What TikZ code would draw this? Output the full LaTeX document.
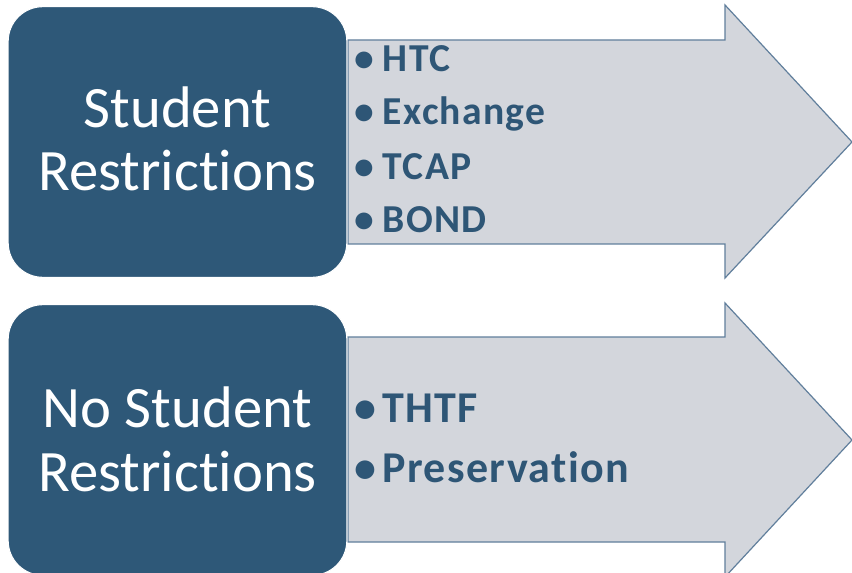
\documentclass[tikz,border=0pt]{standalone}
\usepackage{fontspec}
\setmainfont{Carlito}[Ligatures={NoCommon,NoRare},Contextuals={NoAlternate}]
\definecolor{boxblue}{HTML}{2E5878}
\definecolor{arrowfill}{HTML}{D3D6DC}
\definecolor{arrowline}{HTML}{617F9C}
\definecolor{bultext}{HTML}{2E5676}
\newcommand{\restr}{Restric\kern0pt t\kern0pt ions}
\begin{document}
\begin{tikzpicture}[x=0.75pt,y=-0.75pt,
  arrowshape/.style={fill=arrowfill,draw=arrowline,line width=0.9pt,line join=miter},
  catbox/.style={rectangle,rounded corners=26pt,fill=boxblue,draw=white,line width=0.8pt,
    minimum width=254pt,minimum height=203pt},
  cattext/.style={inner sep=0pt,text=white,align=center,
    font=\fontsize{44}{47.5}\selectfont},
  bul/.style={anchor=base west,inner sep=0pt,text=bultext,font=\bfseries\fontsize{29.7}{30}\selectfont\addfontfeature{LetterSpace=3.3}},
  bulb/.style={anchor=base west,inner sep=0pt,text=bultext,font=\bfseries\fontsize{33}{34}\selectfont\addfontfeature{LetterSpace=3.3}}]
\useasboundingbox (0,0) rectangle (852,573);
\fill[white] (0,0) rectangle (852,573);
% arrows
\draw[arrowshape] (348,40)--(725,40)--(725,5)--(852,142)--(725,278)--(725,244)--(348,244)--cycle;
\draw[arrowshape] (348,337)--(725,337)--(725,303)--(852,440)--(725,577)--(725,542)--(348,542)--cycle;
% boxes
\node[catbox] (box1) at (177.5,142) {};
\node[catbox] (box2) at (177.5,440) {};
\node[cattext] (t1) at ([yshift=2.2pt]box1.center) {Student\\\restr};
\node[cattext] (t2) at ([yshift=0.6pt]box2.center) {No Student\\\restr};
% bullets
\node[bul] (b1) at (354,72) {\makebox[21.5pt][l]{•}HTC};
\node[bul] (b2) at (354,125) {\makebox[21.5pt][l]{•}Exchange};
\node[bul] (b3) at (354,180) {\makebox[21.5pt][l]{•}TCAP};
\node[bul] (b4) at (354,233) {\makebox[21.5pt][l]{•}BOND};
\node[bulb] (c1) at (354,422) {\makebox[21pt][l]{•}THTF};
\node[bulb] (c2) at (354,482) {\makebox[21pt][l]{•}Preservation};
\end{tikzpicture}
\end{document}
